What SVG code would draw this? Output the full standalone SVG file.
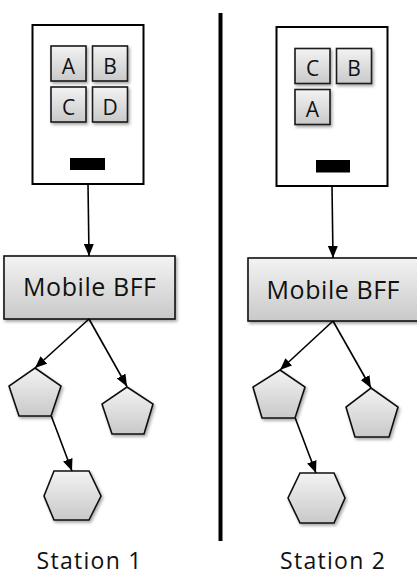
<svg xmlns="http://www.w3.org/2000/svg" width="417" height="579" viewBox="0 0 417 579">
<defs>
<linearGradient id="g" x1="0" y1="0" x2="0" y2="1">
<stop offset="0" stop-color="#f3f3f3"/>
<stop offset="1" stop-color="#c9c9c9"/>
</linearGradient>
<filter id="sh" x="-20%" y="-20%" width="150%" height="150%">
<feDropShadow dx="1.5" dy="2" stdDeviation="1.5" flood-color="#000" flood-opacity="0.35"/>
</filter>
<marker id="ah" markerUnits="userSpaceOnUse" markerWidth="13" markerHeight="11" refX="12" refY="5" orient="auto">
<path d="M0,0 L12,5 L0,10 z" fill="#000"/>
</marker>
</defs>
<style>
.dev{fill:#fff;stroke:#000;stroke-width:2}
.tile{fill:url(#g);stroke:#1a1a1a;stroke-width:1.6;filter:url(#sh)}
.shape{fill:url(#g);stroke:#111;stroke-width:1.6;stroke-linejoin:miter;filter:url(#sh)}
.bar{fill:#000}
.t{font-family:"Open Sans","Liberation Sans",sans-serif;fill:#111;text-anchor:middle}
.tl{font-size:21px}
.tb{font-size:25px}
.ts{font-size:23px}
.c{stroke:#000;stroke-width:1.6;fill:none;marker-end:url(#ah)}
</style>

<line x1="220.5" y1="13" x2="220.5" y2="541" stroke="#000" stroke-width="4"/>

<g id="device1">
<rect class="dev" x="32.5" y="25" width="111" height="159"/>
<rect class="bar" x="70" y="158" width="35" height="12"/>
</g>
<g id="tile1A"><rect class="tile" x="51" y="46" width="35" height="35"/><text class="t tl" x="68.5" y="73.5">A</text></g>
<g id="tile1B"><rect class="tile" x="92.5" y="46" width="35" height="35"/><text class="t tl" x="110" y="73.5">B</text></g>
<g id="tile1C"><rect class="tile" x="51" y="87" width="35" height="35"/><text class="t tl" x="68.5" y="114.5">C</text></g>
<g id="tile1D"><rect class="tile" x="92.5" y="87" width="35" height="35"/><text class="t tl" x="110" y="114.5">D</text></g>

<g id="bff1"><rect class="shape" x="4" y="256" width="171" height="63"/><text class="t tb" x="89.5" y="296" textLength="133">Mobile BFF</text></g>
<g id="pent1a"><polygon class="shape" points="35,368 61,386 51,416 19,416 9,386"/></g>
<g id="pent1b"><polygon class="shape" points="127,387 153,404 144,434 112,434 102,404"/></g>
<g id="hex1"><polygon class="shape" points="54,471 89,471 101,496 89,520 54,520 44,496"/></g>

<g id="device2">
<rect class="dev" x="276.5" y="27" width="111" height="159"/>
<rect class="bar" x="316" y="160" width="34" height="12.5"/>
</g>
<g id="tile2C"><rect class="tile" x="295" y="48.5" width="35" height="35"/><text class="t tl" x="312.5" y="76">C</text></g>
<g id="tile2B"><rect class="tile" x="336.5" y="48.5" width="35" height="35"/><text class="t tl" x="354" y="76">B</text></g>
<g id="tile2A"><rect class="tile" x="295" y="89.5" width="35" height="35"/><text class="t tl" x="312.5" y="117">A</text></g>

<g id="bff2"><rect class="shape" x="248" y="258" width="171" height="63"/><text class="t tb" x="333" y="298.5" textLength="133">Mobile BFF</text></g>
<g id="pent2a"><polygon class="shape" points="280,370 305,387 295,418 262,418 253,387"/></g>
<g id="pent2b"><polygon class="shape" points="371,388 398,407 389,437 355,437 346,407"/></g>
<g id="hex2"><polygon class="shape" points="300,473 334,473 345,498 334,523 300,523 288,498"/></g>

<g id="connectors">
<line class="c" x1="88" y1="184" x2="89" y2="256"/>
<line class="c" x1="89" y1="319" x2="35" y2="368"/>
<line class="c" x1="89" y1="319" x2="127" y2="386.5"/>
<line class="c" x1="51.3" y1="416" x2="72" y2="471"/>
<line class="c" x1="332" y1="186" x2="333" y2="258"/>
<line class="c" x1="333" y1="321" x2="280" y2="370"/>
<line class="c" x1="333" y1="321" x2="371" y2="388"/>
<line class="c" x1="295.3" y1="418.3" x2="316" y2="473"/>
</g>

<text id="label1" class="t ts" x="89" y="569" textLength="105">Station 1</text>
<text id="label2" class="t ts" x="332.5" y="569" textLength="105">Station 2</text>
</svg>
